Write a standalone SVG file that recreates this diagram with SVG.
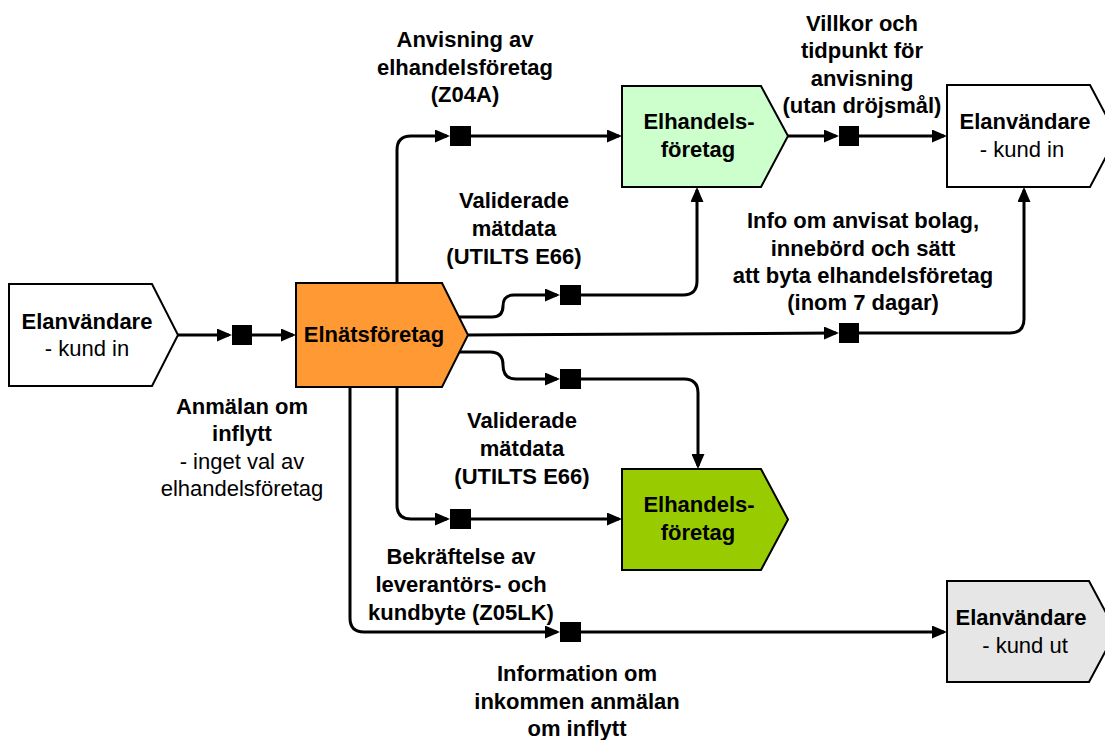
<svg xmlns="http://www.w3.org/2000/svg" width="1105" height="740" viewBox="0 0 1105 740">
<defs>
<marker id="arr" viewBox="0 0 15 13" refX="12" refY="6.5" markerWidth="15" markerHeight="13" markerUnits="userSpaceOnUse" orient="auto">
<path d="M0,0 L15,6.5 L0,13 z" fill="#000"/>
</marker>
<style>
.node{stroke:#000;stroke-width:2;}
.con{fill:none;stroke:#000;stroke-width:3;marker-end:url(#arr);}
.line{fill:none;stroke:#000;stroke-width:3;}
.box{fill:#000;}
text{font-family:"Liberation Sans",Arial,sans-serif;font-size:22px;text-anchor:middle;fill:#000;}
.b{font-weight:bold;}
</style>
</defs>
<rect width="1105" height="740" fill="#fff"/>

<g id="connectors">
<path class="con" d="M178,335 H229"/>
<rect class="box" x="232" y="325" width="20" height="20"/>
<path class="con" d="M252,335 H293"/>

<path class="con" d="M397,283 V150 Q397,136 411,136 H447"/>
<rect class="box" x="450" y="126" width="21" height="20"/>
<path class="con" d="M471,136 H619"/>

<path class="con" d="M788,136 H836"/>
<rect class="box" x="839" y="126" width="20" height="20"/>
<path class="con" d="M859,136 H944"/>

<path class="con" d="M459,317 H492 Q503,317 503,306 Q503,295 514,295 H557"/>
<rect class="box" x="560" y="285" width="21" height="20"/>
<path class="con" d="M581,295 H683 Q697,295 697,281 V190"/>

<path class="con" d="M468,335 L836,333"/>
<rect class="box" x="839" y="323" width="20" height="20"/>
<path class="con" d="M859,333 H1010 Q1024,333 1024,319 V190"/>

<path class="con" d="M459,352 H490 Q503,352 503,365 Q503,379 516,379 H557"/>
<rect class="box" x="560" y="369" width="21" height="20"/>
<path class="con" d="M581,379 H684 Q698,379 698,393 V466"/>

<path class="con" d="M397,387 V505 Q397,519 411,519 H447"/>
<rect class="box" x="450" y="509" width="21" height="20"/>
<path class="con" d="M471,519 H619"/>

<path class="con" d="M350,387 V618 Q350,632 364,632 H557"/>
<rect class="box" x="560" y="622" width="21" height="20"/>
<path class="con" d="M581,632 H944"/>
</g>

<g id="node-kund-in-left">
<polygon class="node" fill="#fff" points="9,284 152,284 178,335 152,386 9,386"/>
<text class="b" x="87" y="329">Elanvändare</text>
<text x="87" y="356">- kund in</text>
</g>

<g id="node-elnat">
<polygon class="node" fill="#FF9933" points="296,283 442,283 468,335 442,387 296,387"/>
<text class="b" x="374" y="342">Elnätsföretag</text>
</g>

<g id="node-elhandel-top">
<polygon class="node" fill="#CCFFCC" points="622,86 761,86 788,136 761,187 622,187"/>
<text class="b" x="699" y="129">Elhandels-</text>
<text class="b" x="698" y="157">företag</text>
</g>

<g id="node-kund-in-right">
<polygon class="node" fill="#fff" points="947,85 1090,85 1117,136 1090,187 947,187"/>
<text class="b" x="1025" y="129">Elanvändare</text>
<text x="1022" y="157">- kund in</text>
</g>

<g id="node-elhandel-bottom">
<polygon class="node" fill="#99CC00" points="622,469 761,469 788,519.5 761,570 622,570"/>
<text class="b" x="699" y="512">Elhandels-</text>
<text class="b" x="698" y="540">företag</text>
</g>

<g id="node-kund-ut">
<polygon class="node" fill="#E6E6E6" points="947,581 1089,581 1116,631.5 1089,682 947,682"/>
<text class="b" x="1021" y="625">Elanvändare</text>
<text x="1025" y="653">- kund ut</text>
</g>

<g id="labels">
<text class="b" x="465" y="47">Anvisning av</text>
<text class="b" x="465" y="75">elhandelsföretag</text>
<text class="b" x="465" y="102">(Z04A)</text>

<text class="b" x="862" y="31">Villkor och</text>
<text class="b" x="862" y="58">tidpunkt för</text>
<text class="b" x="862" y="86">anvisning</text>
<text class="b" x="862" y="113">(utan dröjsmål)</text>

<text class="b" x="514" y="208">Validerade</text>
<text class="b" x="514" y="236">mätdata</text>
<text class="b" x="514" y="264">(UTILTS E66)</text>

<text class="b" x="863" y="228">Info om anvisat bolag,</text>
<text class="b" x="863" y="256">innebörd och sätt</text>
<text class="b" x="863" y="283">att byta elhandelsföretag</text>
<text class="b" x="863" y="310">(inom 7 dagar)</text>

<text class="b" x="522" y="428">Validerade</text>
<text class="b" x="522" y="456">mätdata</text>
<text class="b" x="522" y="484">(UTILTS E66)</text>

<text class="b" x="461" y="564">Bekräftelse av</text>
<text class="b" x="461" y="592">leverantörs- och</text>
<text class="b" x="461" y="620">kundbyte (Z05LK)</text>

<text class="b" x="577" y="681">Information om</text>
<text class="b" x="577" y="709">inkommen anmälan</text>
<text class="b" x="577" y="736">om inflytt</text>

<text class="b" x="242" y="414">Anmälan om</text>
<text class="b" x="242" y="441">inflytt</text>
<text x="242" y="469">- inget val av</text>
<text x="242" y="496">elhandelsföretag</text>
</g>
</svg>
